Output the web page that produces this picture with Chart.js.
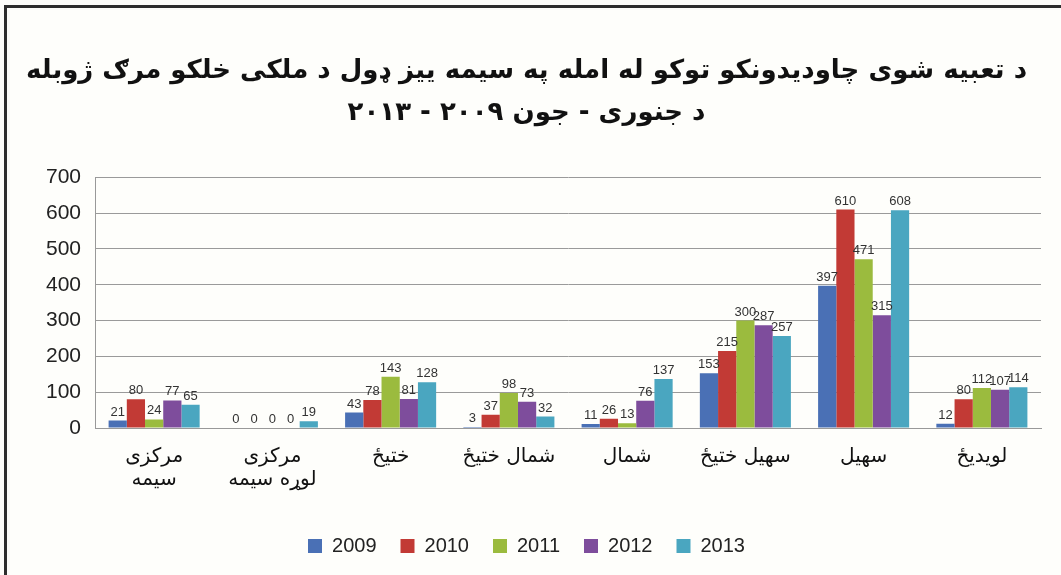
<!DOCTYPE html>
<html>
<head>
<meta charset="utf-8">
<script src="https://cdn.jsdelivr.net/npm/chart.js@4"></script>
<style>
  body { margin: 0; background: #fefefb; }
  #wrap { position: relative; width: 1061px; height: 575px; overflow: hidden; }
  #frame { position: absolute; left: 4px; top: 5px; width: 1100px; height: 600px;
           border-left: 3px solid #2e2e2e; border-top: 3px solid #2e2e2e; pointer-events: none; }
</style>
</head>
<body>
<div id="wrap">
  <canvas id="myChart" width="1061" height="575"></canvas>
  <div id="frame"></div>
</div>
<script>
// categories, left to right as in the picture
const regions = [
    ['مرکزی', 'سیمه'],
    ['مرکزی', 'لوړه سیمه'],
    'ختیځ',
    'شمال ختیځ',
    'شمال',
    'سهیل ختیځ',
    'سهیل',
    'لویدیځ'
];
const years = ['2009', '2010', '2011', '2012', '2013'];

const v2009 = [21, 0, 43, 3, 11, 153, 397, 12];
const v2010 = [80, 0, 78, 37, 26, 215, 610, 80];
const v2011 = [24, 0, 143, 98, 13, 300, 471, 112];
const v2012 = [77, 0, 81, 73, 76, 287, 315, 107];
const v2013 = [65, 19, 128, 32, 137, 257, 608, 114];

const yTicks = [0, 100, 200, 300, 400, 500, 600, 700];

const titleLines = [
    'د تعبیه شوی چاودیدونکو توکو له امله په سیمه ییز ډول د ملکی خلکو مرګ ژوبله',
    'د جنوری - جون ۲۰۰۹ - ۲۰۱۳'
];

const colors = ['#4a70b5', '#c23a35', '#9bbb3e', '#7e4d9c', '#4aa6c0'];
const series = [v2009, v2010, v2011, v2012, v2013];

// draws the value above each bar
const valueLabels = {
    id: 'valueLabels',
    afterDatasetsDraw(chart) {
        const ctx = chart.ctx;
        ctx.save();
        ctx.font = '13px "Liberation Sans", Arial, sans-serif';
        ctx.fillStyle = '#333';
        ctx.textAlign = 'center';
        ctx.textBaseline = 'bottom';
        chart.data.datasets.forEach((ds, i) => {
            const meta = chart.getDatasetMeta(i);
            meta.data.forEach((bar, j) => {
                ctx.fillText(ds.data[j], bar.x, bar.y - 2);
            });
        });
        ctx.restore();
    }
};

const ctx = document.getElementById('myChart').getContext('2d');
const myChart = new Chart(ctx, {
    type: 'bar',
    data: {
        labels: regions,
        datasets: years.map((y, i) => ({
            label: y,
            data: series[i],
            backgroundColor: colors[i],
            borderWidth: 0,
            barPercentage: 1.0,
            categoryPercentage: 0.77
        }))
    },
    options: {
        responsive: false,
        animation: false,
        layout: { padding: { left: 12, right: 20, top: 0, bottom: 9 } },
        plugins: {
            title: {
                display: true,
                text: titleLines,
                color: '#111',
                font: { family: '"DejaVu Sans", sans-serif', size: 26, weight: 'bold', lineHeight: 1.62 },
                padding: { top: 50, bottom: 43 }
            },
            legend: {
                position: 'bottom',
                labels: {
                    boxWidth: 14,
                    boxHeight: 14,
                    padding: 24,
                    color: '#222',
                    font: { family: '"Liberation Sans", Arial, sans-serif', size: 20 }
                }
            },
            tooltip: { enabled: false }
        },
        scales: {
            x: {
                grid: { display: false },
                border: { color: '#999', width: 1 },
                ticks: {
                    color: '#111',
                    maxRotation: 0,
                    autoSkip: false,
                    padding: 9,
                    font: { family: '"DejaVu Sans", sans-serif', size: 20, lineHeight: 1.15 }
                },
                afterFit(scale) { scale.height = 84; }
            },
            y: {
                min: 0,
                max: 700,
                afterBuildTicks(scale) { scale.ticks = yTicks.map(v => ({ value: v })); },
                grid: { color: '#9a9a9a', lineWidth: 1, drawTicks: false },
                border: { color: '#999', width: 1 },
                ticks: {
                    color: '#222',
                    padding: 14,
                    font: { family: '"Liberation Sans", Arial, sans-serif', size: 21 }
                },
                afterFit(scale) { scale.width = 83; }
            }
        }
    },
    plugins: [valueLabels]
});
</script>
</body>
</html>
